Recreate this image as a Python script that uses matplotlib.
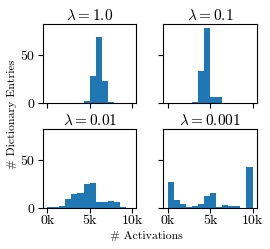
import numpy as np
import matplotlib

matplotlib.use("Agg")
import matplotlib.pyplot as plt
from matplotlib.ticker import FuncFormatter

plt.rcParams["font.family"] = "serif"
plt.rcParams["font.serif"] = ["cmr10"]
plt.rcParams["mathtext.fontset"] = "cm"
plt.rcParams["axes.formatter.use_mathtext"] = True
plt.rcParams["axes.unicode_minus"] = False

# 14 equal bins over 0..10k activations
bin_edges = np.linspace(0, 10000, 15)

titles = [r"$\lambda = 1.0$", r"$\lambda = 0.1$", r"$\lambda = 0.01$", r"$\lambda = 0.001$"]

# dictionary entries per bin
counts_1 = [0, 0, 0, 0, 0, 0, 2, 28, 68, 23, 1, 0, 0, 0]
counts_01 = [0, 0, 0, 0, 1, 33, 78, 6.5, 5.5, 0, 0, 0, 0, 0]
counts_001 = [1, 1, 2, 9.5, 14, 15, 25, 26, 6, 6, 7, 6, 1, 0]
counts_0001 = [27, 8, 3.4, 0.7, 1.4, 3.4, 12, 15, 0.7, 2.4, 1.4, 1.4, 0, 42]

all_counts = [counts_1, counts_01, counts_001, counts_0001]

x_ticks = [0, 5000, 10000]
y_ticks = [0, 50]

fig, axes = plt.subplots(2, 2, figsize=(2.7, 2.49), dpi=100, sharex=True, sharey=True)
fig.subplots_adjust(left=0.159, right=0.951, bottom=0.166, top=0.904,
                    wspace=0.29, hspace=0.33)

for ax, title, counts in zip(axes.flat, titles, all_counts):
    ax.hist(bin_edges[:-1], bins=bin_edges, weights=counts, color="#1f77b4")
    ax.set_title(title, fontsize=11, pad=3)
    ax.set_xticks(x_ticks)
    ax.set_yticks(y_ticks)
    ax.tick_params(labelsize=10, length=3.5, width=0.8, pad=2)
    ax.xaxis.set_major_formatter(FuncFormatter(lambda v, p: f"{int(v / 1000)}k"))

axes[0, 0].set_xlim(-500, 10500)

fig.text(0.044, 0.54, "# Dictionary Entries", rotation=90,
         ha="center", va="center", fontsize=8.5)
fig.text(0.543, 0.052, "# Activations", ha="center", va="center", fontsize=8.5)

fig.savefig("out.png", dpi=100)
plt.close(fig)
